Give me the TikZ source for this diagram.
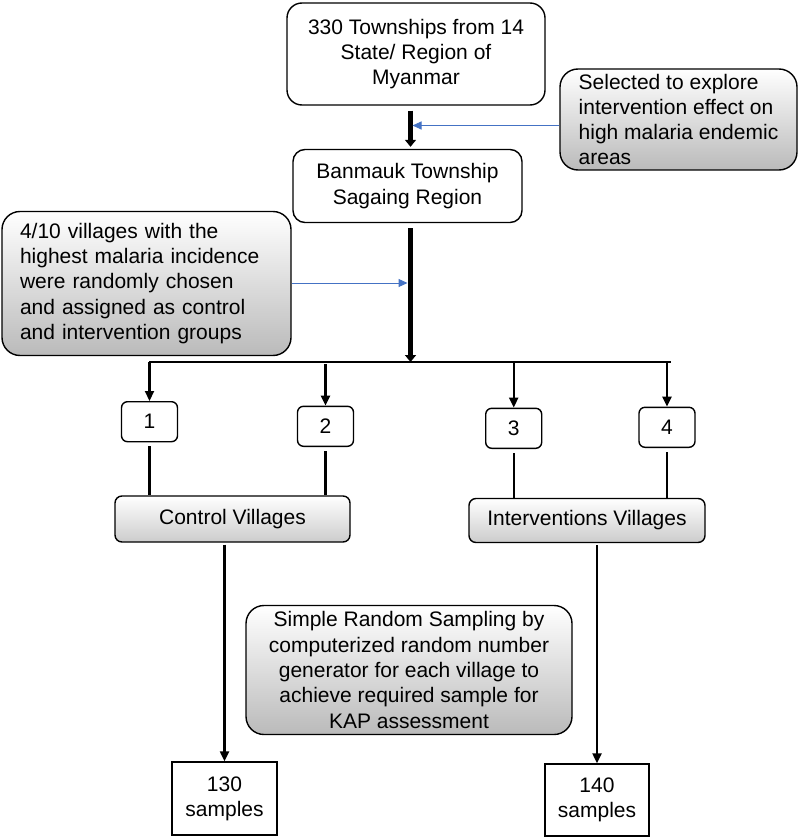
\documentclass[tikz,border=0pt]{standalone}
\usepackage{fontspec}
\setmainfont{Liberation Sans}
\usetikzlibrary{arrows.meta}
\definecolor{bluearr}{RGB}{68,114,196}
\begin{document}
\begin{tikzpicture}[x=1pt,y=-1pt,
  every node/.style={font=\fontsize{21}{25.3}\selectfont, inner sep=0pt},
  whitebox/.style={draw, line width=1.4pt, fill=white, align=center},
  callout/.style={draw, line width=1.4pt, rounded corners=18pt, top color=white, bottom color=black!27, inner xsep=18pt, inner ysep=0pt},
  village/.style={draw, line width=1.4pt, rounded corners=7pt, top color=white, bottom color=black!20, align=center},
  numbox/.style={whitebox, rounded corners=6pt, minimum width=56pt, minimum height=40pt},
  samplebox/.style={whitebox, minimum width=105pt, minimum height=73pt},
  thickarrow/.style={line width=5.5pt, -{Triangle[length=7pt,width=11pt]}},
  blackarrow/.style={line width=2.2pt, -{Triangle[length=10pt,width=9pt]}},
  conn/.style={line width=2.2pt},
  bluearrow/.style={line width=1pt, draw=bluearr, -{Triangle[length=9pt,width=8pt,fill=bluearr]}}
]
\useasboundingbox (0,0) rectangle (799,837);

% nodes
\node[whitebox, rounded corners=15pt, minimum width=258pt, minimum height=102pt] (top) at (416,54) {330 Townships from 14\\State/ Region of\\Myanmar};
\node[callout, align=left, minimum width=237pt, minimum height=101pt] (rc) at (678.5,119.5) {Selected to explore\\intervention effect on\\high malaria endemic\\areas};
\node[whitebox, rounded corners=12pt, minimum width=229pt, minimum height=73pt] (bm) at (407.5,186) {Banmauk Township\\Sagaing Region};
\node[callout, text width=253pt, align=left, minimum height=144pt] (lc) at (146.5,283.5) {4/10 villages with the\\highest malaria incidence\\were randomly chosen\\and assigned as control\\and intervention groups};

\node[numbox] (b1) at (149.5,421.7) {1};
\node[numbox] (b2) at (325.5,426.3) {2};
\node[numbox] (b3) at (513.7,428.3) {3};
\node[numbox] (b4) at (667,427.3) {4};

\node[village, minimum width=235pt, minimum height=46pt] (cv) at (232.5,519) {Control Villages};
\node[village, minimum width=236pt, minimum height=44pt] (iv) at (587,520.5) {Interventions Villages};

\node[callout, align=center, minimum width=326pt, minimum height=129pt] (sr) at (409,670) {Simple Random Sampling by\\computerized random number\\generator for each village to\\achieve required sample for\\KAP assessment};

\node[samplebox] (s130) at (224.5,798.5) {130\\samples};
\node[samplebox, minimum width=104pt, minimum height=72pt] (s140) at (597,800) {140\\samples};

% coordinates
\coordinate (sp) at (410.5,362);
\coordinate (hl) at (149,362);
\coordinate (hr) at (671,362);
\coordinate (bt1) at (412.5,125.5);
\coordinate (bt2) at (407.5,283);

% connectors
\draw[thickarrow, shorten <=5pt, shorten >=2pt] (top.south -| sp) -- (bm.north -| sp);
\draw[thickarrow, shorten <=5pt] (bm.south -| sp) -- (sp);
\draw[bluearrow] (rc.west |- bt1) -- (bt1);
\draw[bluearrow] (lc.east |- bt2) -- (bt2);
\draw[conn] (hl) -- (hr);
\draw[blackarrow] (b1.north |- hl) -- (b1.north);
\draw[blackarrow, shorten <=2pt] (b2.north |- hl) -- (b2.north);
\draw[blackarrow] (b3.north |- hl) -- (b3.north);
\draw[blackarrow] (b4.north |- hl) -- (b4.north);
\draw[conn, shorten <=4pt] (b1.south) -- (b1.south |- cv.north);
\draw[conn, shorten <=4pt] (b2.south) -- (b2.south |- cv.north);
\draw[conn, shorten <=4pt] (b3.south) -- (b3.south |- iv.north);
\draw[conn, shorten <=4pt] (b4.south) -- (b4.south |- iv.north);
\draw[blackarrow, shorten <=2pt] (cv.south -| s130.north) -- (s130.north);
\draw[blackarrow, shorten <=2pt] (iv.south -| s140.north) -- (s140.north);
\end{tikzpicture}
\end{document}
